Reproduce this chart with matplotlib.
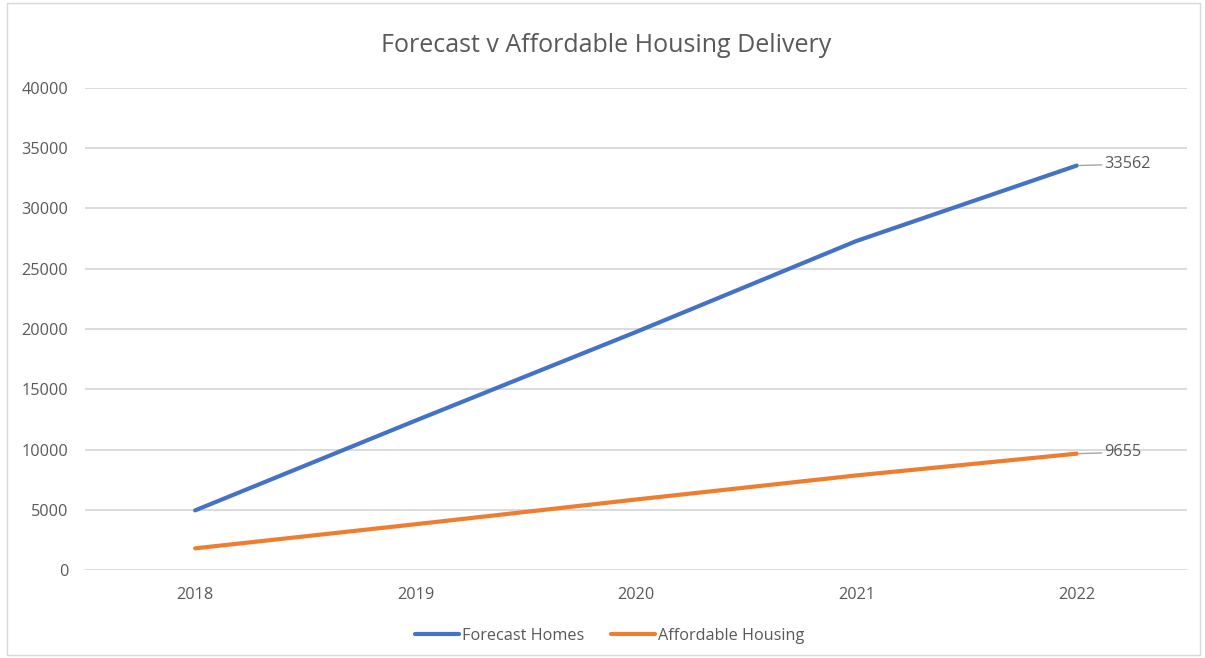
import matplotlib.pyplot as plt
from matplotlib.patches import Rectangle

years = ['2018', '2019', '2020', '2021', '2022']
forecast_homes = [4950, 12400, 19750, 27300, 33562]
affordable_housing = [1800, 3800, 5850, 7850, 9655]

blue = '#4472C4'
orange = '#ED7D31'
grey = '#595959'

plt.rcParams['font.family'] = ['Open Sans', 'DejaVu Sans']

fig = plt.figure(figsize=(12.05, 6.58), dpi=100)
ax = fig.add_axes([0.0705, 0.1337, 0.9145, 0.7326])

x = list(range(len(years)))
ax.plot(x, forecast_homes, color=blue, lw=3, label='Forecast Homes', solid_capstyle='round')
ax.plot(x, affordable_housing, color=orange, lw=3, label='Affordable Housing', solid_capstyle='round')

ax.set_xlim(-0.5, len(years) - 0.5)
ax.set_ylim(0, 40000)
ax.set_yticks(range(0, 40001, 5000))
ax.set_xticks(x)
ax.set_xticklabels(years)
ax.grid(axis='y', color='#d9d9d9', lw=1.3)
ax.set_axisbelow(True)
for s in ax.spines.values():
    s.set_visible(False)
ax.tick_params(length=0, labelsize=11.7, colors=grey)
ax.tick_params(axis='y', pad=12)
ax.tick_params(axis='x', pad=12)

# end-point labels with leader lines
for series in (forecast_homes, affordable_housing):
    ax.annotate(str(series[-1]), xy=(x[-1], series[-1]), xytext=(20, 1),
                textcoords='offset points', va='center', ha='left',
                fontsize=11.7, color=grey,
                arrowprops=dict(arrowstyle='-', color='#a6a6a6', lw=1,
                                shrinkA=0, shrinkB=2))

fig.text(0.503, 0.931, 'Forecast v Affordable Housing Delivery', ha='center', va='center',
         fontsize=18, color=grey)

fig.legend(loc='center', bbox_to_anchor=(0.506, 0.034), ncol=2, frameon=False,
           fontsize=11.7, labelcolor=grey, handlelength=2.7, handletextpad=0.15,
           columnspacing=1.7)

fig.patches.append(Rectangle((0.006, 0.004), 0.99, 0.992, transform=fig.transFigure,
                             fill=False, edgecolor='#d9d9d9', lw=1))

fig.savefig('out.png', dpi=100)
